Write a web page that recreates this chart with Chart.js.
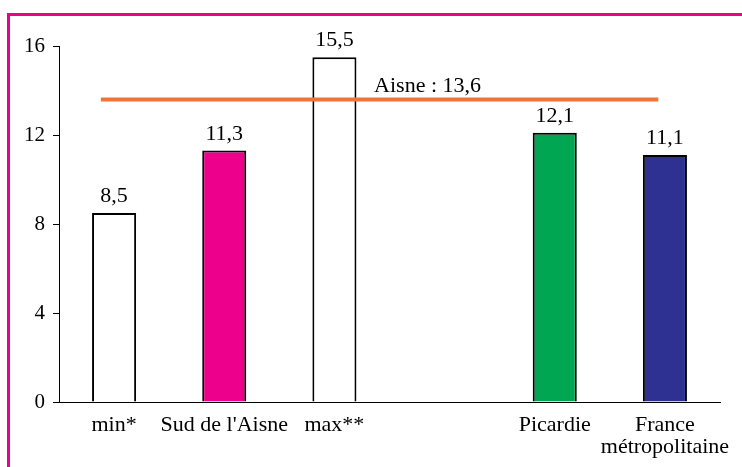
<!DOCTYPE html>
<html>
<head>
<meta charset="utf-8">
<script src="https://cdn.jsdelivr.net/npm/chart.js@4.4.0/dist/chart.umd.min.js"></script>
<style>
  html, body { margin: 0; padding: 0; background: #fff; }
  #wrap { position: relative; width: 742px; height: 467px; overflow: hidden; }
  #frame { position: absolute; left: 7px; top: 13px; width: 800px; height: 500px;
           border-top: 3px solid #EC008C; border-left: 3px solid #EC008C; }
  canvas { position: absolute; left: 0; top: 0; }
</style>
</head>
<body>
<div id="wrap">
  <div id="frame"></div>
  <canvas id="c" width="742" height="467"></canvas>
</div>
<script>
// Catégories (une case vide sépare les territoires de référence)
const categories = ['min*', "Sud de l'Aisne", 'max**', '', 'Picardie', ['France', 'métropolitaine']];
const values = [8.5, 11.3, 15.5, null, 12.1, 11.1];
const barColors = ['#FFFFFF', '#EC008C', '#FFFFFF', '#FFFFFF', '#00A651', '#2E3192'];
const yTicks = [0, 4, 8, 12, 16];

// Moyenne départementale
const aisneValue = 13.6;
const aisneLabel = 'Aisne : 13,6';
const aisneSpan = [-0.12, 4.94];

const fmt = v => v.toFixed(1).replace('.', ',');
const FONT = '"Liberation Serif", "Times New Roman", serif';

const labelsPlugin = {
  id: 'valueLabels',
  afterDatasetsDraw(chart) {
    const ctx = chart.ctx;
    const meta = chart.getDatasetMeta(1);
    ctx.save();
    ctx.font = '22px ' + FONT;
    ctx.fillStyle = '#000';
    ctx.textAlign = 'center';
    ctx.textBaseline = 'alphabetic';
    meta.data.forEach((bar, i) => {
      if (values[i] == null) return;
      ctx.fillText(fmt(values[i]), bar.x, bar.y - 11);
    });
    // libellé de la ligne départementale
    const xs = chart.scales.x2, ys = chart.scales.y;
    ctx.textAlign = 'left';
    ctx.fillText(aisneLabel, xs.getPixelForValue(2.36), ys.getPixelForValue(aisneValue) - 7);
    ctx.restore();
  }
};

new Chart(document.getElementById('c'), {
  type: 'bar',
  data: {
    labels: categories,
    datasets: [
      {
        type: 'line',
        xAxisID: 'x2',
        data: aisneSpan.map(x => ({ x: x, y: aisneValue })),
        borderColor: '#F47334',
        borderWidth: 4,
        pointRadius: 0,
        order: 0
      },
      {
        type: 'bar',
        xAxisID: 'x',
        data: values,
        backgroundColor: barColors,
        borderColor: '#000',
        borderWidth: 2,
        grouped: false,
        categoryPercentage: 1,
        barPercentage: 0.4,
        order: 1
      }
    ]
  },
  options: {
    responsive: false,
    animation: false,
    devicePixelRatio: 1,
    layout: { padding: { top: 46, right: 22, left: 0, bottom: 0 } },
    plugins: { legend: { display: false }, tooltip: { enabled: false } },
    scales: {
      x: {
        type: 'category',
        grid: { display: false },
        border: { display: true, color: '#000', width: 1 },
        ticks: { color: '#000', font: { family: FONT, size: 22, lineHeight: 1.0 }, padding: 4, maxRotation: 0, autoSkip: false },
        afterFit(s) { s.height = 65; }
      },
      x2: {
        type: 'linear',
        display: false,
        offset: false,
        grace: 0,
        min: -0.5,
        max: 5.5
      },
      y: {
        min: 0,
        max: 16,
        afterBuildTicks(s) { s.ticks = yTicks.map(v => ({ value: v })); },
        grid: { drawOnChartArea: false, drawTicks: true, tickLength: 6, color: '#000' },
        border: { display: true, color: '#000', width: 1 },
        ticks: { color: '#000', font: { family: FONT, size: 21 }, padding: 8 },
        afterFit(s) { s.width = 59; }
      }
    }
  },
  plugins: [labelsPlugin]
});
</script>
</body>
</html>
